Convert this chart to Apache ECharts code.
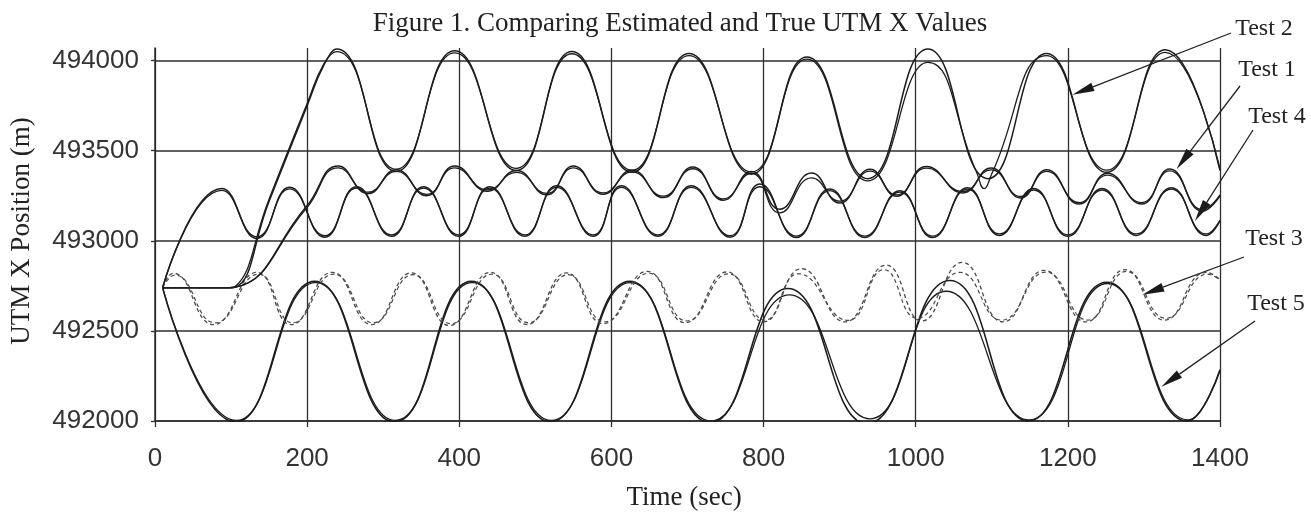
<!DOCTYPE html>
<html>
<head>
<meta charset="utf-8">
<script src="https://cdn.jsdelivr.net/npm/echarts@6/dist/echarts.min.js"></script>
<style>
html,body{margin:0;padding:0;background:#ffffff;}
#c{width:1311px;height:517px;}
</style>
</head>
<body>
<div id="c"></div>
<script>
// ---------- axis ticks ----------
const xTicks = [0, 200, 400, 600, 800, 1000, 1200, 1400];
const yTicks = [492000, 492500, 493000, 493500, 494000];
const yTop = 494070;

// ---------- series values: [time (s), UTM X (m)] ----------
const test1True = [[10,492740],[98,492740],[105,492742],[199,493190],[241,493415],[280,493262],[317,493395],[357,493250],[394,493415],[437,493275],[475,493390],[515,493255],[550,493415],[589,493258],[627,493392],[668,493240],[707,493410],[747,493225],[784,493385],[821,493175],[863,493376],[900,493210],[940,493397],[975,493247],[1014,493413],[1062,493266],[1099,493404],[1138,493238],[1172,493395],[1215,493204],[1252,493375],[1297,493204],[1334,493398],[1377,493165],[1400,493250]];
const test1Est  = [[10,492740],[98,492740],[105,492742],[199,493180],[241,493405],[280,493270],[317,493385],[357,493258],[394,493405],[437,493283],[475,493380],[515,493263],[550,493405],[589,493266],[627,493382],[668,493248],[707,493400],[747,493233],[784,493375],[821,493155],[863,493349],[900,493220],[940,493387],[975,493255],[1014,493403],[1062,493274],[1099,493394],[1138,493246],[1172,493385],[1215,493212],[1252,493365],[1297,493212],[1334,493388],[1377,493173],[1400,493255]];

const test2True = [[10,492740],[98,492740],[105,492742],[150,493220],[200,493750],[222,493975],[239,494065],[317,493385],[394,494055],[475,493390],[548,494050],[627,493380],[702,494040],[784,493370],[857,494020],[937,493345],[1016,494065],[1095,493345],[1172,494040],[1251,493380],[1328,494060],[1400,493390]];
const test2Est  = [[10,492740],[98,492740],[105,492745],[150,493232],[200,493762],[222,493982],[239,494050],[317,493397],[394,494043],[475,493402],[548,494038],[627,493392],[702,494028],[784,493382],[857,494008],[937,493333],[1016,493990],[1080,493380],[1090,493290],[1100,493372],[1172,494028],[1251,493392],[1328,494046],[1400,493400]];

const test3True = [[10,492740],[24,492820],[77,492535],[134,492825],[179,492535],[233,492825],[285,492535],[337,492822],[387,492530],[441,492825],[489,492535],[541,492822],[589,492540],[647,492830],[697,492545],[752,492827],[800,492550],[850,492845],[907,492550],[961,492865],[1008,492555],[1061,492880],[1115,492550],[1169,492836],[1224,492550],[1275,492840],[1327,492560],[1382,492825],[1400,492785]];
const test3Est  = [[10,492740],[26,492810],[79,492545],[136,492815],[181,492545],[235,492815],[287,492545],[339,492812],[389,492540],[443,492815],[491,492545],[543,492812],[591,492550],[649,492820],[699,492555],[754,492817],[802,492560],[846,492817],[911,492558],[958,492840],[1002,492570],[1058,492825],[1113,492560],[1171,492826],[1226,492560],[1277,492830],[1329,492570],[1384,492815],[1400,492780]];

const test4True = [[10,492740],[88,493290],[134,493013],[177,493297],[223,493020],[265,493300],[311,493025],[353,493300],[399,493025],[440,493300],[486,493025],[528,493305],[576,493025],[613,493305],[661,493025],[705,493305],[756,493020],[795,493315],[843,493018],[887,493287],[933,493018],[979,493278],[1022,493018],[1068,493295],[1110,493030],[1155,493290],[1200,493025],[1245,493290],[1290,493030],[1336,493295],[1382,493030],[1400,493110]];
const test4Est  = [[10,492740],[88,493280],[134,493022],[177,493288],[223,493028],[265,493292],[311,493033],[353,493292],[399,493033],[440,493292],[486,493033],[528,493297],[576,493033],[613,493297],[661,493033],[705,493297],[756,493028],[795,493300],[843,493026],[887,493279],[933,493026],[979,493270],[1022,493026],[1068,493287],[1110,493038],[1155,493282],[1200,493033],[1245,493282],[1290,493038],[1336,493287],[1382,493038],[1400,493115]];

const test5True = [[10,492740],[106,491995],[210,492775],[315,491995],[416,492775],[520,491995],[624,492775],[730,491990],[832,492735],[936,491985],[1045,492780],[1148,492000],[1251,492770],[1357,492000],[1400,492285]];
const test5Est  = [[10,492740],[107,492003],[211,492768],[316,492003],[417,492768],[521,492003],[625,492768],[731,492000],[834,492700],[940,492012],[1040,492720],[1149,492006],[1252,492763],[1358,492006],[1400,492280]];

// arrow targets (where each label's arrow points), in data units
const arrowTargets = [
  {label:'Test 2', t:1206, v:493810},
  {label:'Test 1', t:1343, v:493398},
  {label:'Test 4', t:1367, v:493110},
  {label:'Test 3', t:1298, v:492700},
  {label:'Test 5', t:1323, v:492190}
];

// ---------- layout / style ----------
const ink = '#1d1d1d';
const gridInk = '#2e2e2e';
const serif = '"Liberation Serif","Times New Roman",serif';
const sans = '"Liberation Sans",Arial,sans-serif';
const labelLayout = {
  'Test 2': {x:1264, y:29, tail:[1231,33]},
  'Test 1': {x:1267, y:70, tail:[1240,86]},
  'Test 4': {x:1277, y:117, tail:[1253,130]},
  'Test 3': {x:1274, y:239, tail:[1244,257]},
  'Test 5': {x:1276, y:304, tail:[1255,321]}
};

function mk(name, data, dashed, w) {
  return {
    type:'line', name:name, data:data, smooth:0.5, symbol:'none', silent:true,
    lineStyle:{color: dashed ? '#4a4a4a' : ink, width: w, type: dashed ? [4,3] : 'solid'},
    emphasis:{disabled:true}
  };
}

const chart = echarts.init(document.getElementById('c'), null, {renderer:'canvas'});
chart.setOption({
  animation:false,
  backgroundColor:'#ffffff',
  grid:{left:155, right:91, top:48, bottom:96, outerBoundsMode:'none'},
  xAxis:{
    type:'value', min:xTicks[0], max:xTicks[xTicks.length-1], interval:xTicks[1]-xTicks[0],
    axisLine:{show:true, lineStyle:{color:gridInk, width:1.5}},
    axisTick:{show:true, length:6, lineStyle:{color:gridInk, width:1.3}},
    axisLabel:{margin:25, color:'#333', fontFamily:sans, fontSize:26, formatter:v=>String(v)},
    splitLine:{show:true, lineStyle:{color:gridInk, width:1.3}}
  },
  yAxis:{
    type:'value', min:yTicks[0], max:yTop, interval:yTicks[1]-yTicks[0],
    axisLine:{show:true, lineStyle:{color:gridInk, width:1.5}},
    axisTick:{show:true, length:4, lineStyle:{color:gridInk, width:1.3}},
    axisLabel:{margin:16, color:'#333', fontFamily:sans, fontSize:26, formatter:v=>String(v), showMaxLabel:false},
    splitLine:{show:true, showMaxLine:false, lineStyle:{color:gridInk, width:1.5}}
  },
  series:[
    mk('Test 5 True', test5True, false, 1.6),
    mk('Test 5 Estimated', test5Est, false, 1.3),
    mk('Test 3 True', test3True, true, 1.3),
    mk('Test 3 Estimated', test3Est, true, 1.2),
    mk('Test 4 True', test4True, false, 1.5),
    mk('Test 4 Estimated', test4Est, false, 1.3),
    mk('Test 1 True', test1True, false, 1.5),
    mk('Test 1 Estimated', test1Est, false, 1.3),
    mk('Test 2 True', test2True, false, 1.5),
    mk('Test 2 Estimated', test2Est, false, 1.3)
  ]
});

// ---------- annotations ----------
const g = [];
g.push({type:'text', x:680, y:24, silent:true,
  style:{text:'Figure 1. Comparing Estimated and True UTM X Values', font:'27px '+serif, fill:'#222', textAlign:'center', textVerticalAlign:'middle'}});
g.push({type:'text', x:684, y:498, silent:true,
  style:{text:'Time (sec)', font:'27px '+serif, fill:'#222', textAlign:'center', textVerticalAlign:'middle'}});
g.push({type:'text', x:22, y:231, rotation:Math.PI/2, silent:true,
  style:{text:'UTM X Position (m)', font:'27px '+serif, fill:'#222', textAlign:'center', textVerticalAlign:'middle'}});

arrowTargets.forEach(a => {
  const L = labelLayout[a.label];
  g.push({type:'text', x:L.x, y:L.y, silent:true,
    style:{text:a.label, font:'24px '+serif, fill:'#222', textAlign:'center', textVerticalAlign:'middle'}});
  const tip = chart.convertToPixel({gridIndex:0}, [a.t, a.v]);
  const tx = L.tail[0], ty = L.tail[1];
  const dx = tip[0]-tx, dy = tip[1]-ty, len = Math.sqrt(dx*dx+dy*dy);
  const ux = dx/len, uy = dy/len, px = -uy, py = ux;
  const headLen = 22, headW = 4.5;
  const bx = tip[0]-ux*headLen, by = tip[1]-uy*headLen;
  g.push({type:'line', silent:true, shape:{x1:tx, y1:ty, x2:bx, y2:by}, style:{stroke:'#222', lineWidth:1.3}});
  g.push({type:'polygon', silent:true, shape:{points:[[tip[0],tip[1]],[bx+px*headW,by+py*headW],[bx-px*headW,by-py*headW]]}, style:{fill:'#1a1a1a'}});
});
chart.setOption({graphic:g});
</script>
</body>
</html>
